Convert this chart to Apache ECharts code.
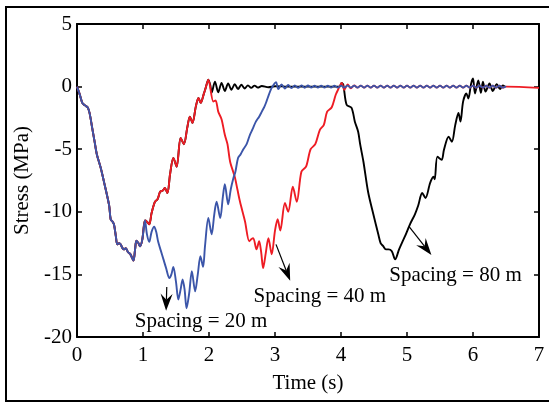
<!DOCTYPE html>
<html><head><meta charset="utf-8">
<script src="https://cdn.jsdelivr.net/npm/echarts/dist/echarts.min.js"></script>
<style>html,body{margin:0;padding:0;background:#fff}#c{width:549px;height:404px}</style>
</head><body><div id="c"></div>
<script>
// ---- axes ----
const xMin = 0, xMax = 7, xStep = 1;
const yMin = -20, yMax = 5, yStep = 5;
const xTitle = 'Time (s)';
const yTitle = 'Stress (MPa)';

// ---- data (time s, stress MPa) ----
// first trough, shared by all three spacings
const sharedDescent = [[0,0],[0.04,-0.6],[0.08,-1.3],[0.12,-1.5],[0.16,-1.65],[0.19,-2.1],[0.23,-3.3],[0.27,-4.5],[0.30,-5.4],[0.36,-6.5],[0.40,-7.4],[0.43,-8.1],[0.46,-8.8],[0.49,-9.6],[0.51,-10.6],[0.54,-10.8],[0.56,-11.0],[0.59,-12.0],[0.61,-12.6],[0.64,-12.5],[0.66,-12.6],[0.69,-12.9],[0.71,-13.0],[0.74,-12.9],[0.77,-13.2],[0.81,-13.4],[0.855,-13.9],[0.88,-13.0],[0.90,-12.3],[0.93,-12.5],[0.955,-12.75],[0.99,-12.2],[1.03,-10.7]];
// rise after first trough, shared by 40 m and 80 m
const sharedRise = [[1.06,-10.8],[1.095,-11.0],[1.13,-10.1],[1.18,-9.2],[1.22,-9.0],[1.26,-8.4],[1.30,-8.3],[1.33,-8.1],[1.37,-8.5],[1.41,-7.0],[1.46,-5.7],[1.51,-6.4],[1.57,-4.1],[1.62,-4.6],[1.67,-3.3],[1.71,-2.4],[1.75,-2.9],[1.80,-1.6],[1.84,-0.9],[1.875,-1.3],[1.92,-0.6],[1.95,-0.1],[1.99,0.55]];
// spacing = 80 m
const tail80 = [[2.02,0.1],[2.04,-0.5],[2.09,0.4],[2.14,-0.45],[2.19,0.3],[2.24,-0.35],[2.29,0.25],[2.34,-0.25],[2.39,0.2],[2.44,-0.2],[2.49,0.15],[2.54,-0.15],[2.59,0.1],[2.64,-0.1],[2.69,0.08],[2.74,-0.08],[2.80,0.05],[2.90,-0.05],[3.00,0.03],[3.20,0],[3.50,0],[3.80,0],[3.98,0],[4.01,0.3],[4.035,0.15],[4.085,-1.45],[4.16,-1.7],[4.21,-2.8],[4.26,-3.6],[4.29,-4.6],[4.34,-6.0],[4.41,-8.4],[4.49,-10.2],[4.565,-11.8],[4.60,-12.5],[4.64,-12.75],[4.68,-13.0],[4.72,-13.0],[4.77,-13.15],[4.82,-13.8],[4.88,-13.0],[4.93,-12.4],[4.97,-11.95],[5.045,-11.0],[5.12,-10.2],[5.17,-9.5],[5.23,-8.5],[5.28,-8.9],[5.35,-7.7],[5.40,-7.2],[5.42,-7.4],[5.46,-5.6],[5.525,-5.85],[5.56,-5.05],[5.63,-4.0],[5.68,-4.4],[5.73,-3.1],[5.78,-2.1],[5.81,-2.8],[5.85,-1.2],[5.90,-0.55],[5.93,-0.95],[5.97,0.2],[6.00,0.65],[6.03,-0.55],[6.08,0.5],[6.12,-0.5],[6.15,0.4],[6.19,-0.4],[6.25,0.25],[6.30,-0.35],[6.36,0.2],[6.41,-0.2],[6.45,0.1],[6.48,0.0]];
// spacing = 40 m
const tail40 = [[2.065,-1.2],[2.10,-1.1],[2.14,-2.0],[2.19,-2.6],[2.24,-3.85],[2.28,-4.6],[2.32,-6.0],[2.39,-7.2],[2.43,-8.2],[2.47,-9.2],[2.545,-10.75],[2.61,-12.35],[2.64,-12.2],[2.67,-12.1],[2.72,-13.0],[2.76,-12.35],[2.79,-13.2],[2.82,-14.5],[2.86,-13.3],[2.90,-12.1],[2.95,-13.4],[3.00,-11.5],[3.04,-10.6],[3.08,-11.5],[3.15,-9.3],[3.20,-10.0],[3.27,-8.0],[3.33,-9.2],[3.40,-6.8],[3.47,-6.4],[3.54,-5.0],[3.61,-4.6],[3.68,-3.45],[3.74,-3.05],[3.79,-2.0],[3.86,-1.65],[3.92,-0.65],[3.96,-0.2],[4.01,0.3],[4.05,-0.25],[4.10,0.18],[4.15,-0.14],[4.20,0.1],[4.25,-0.08],[4.30,0.08],[4.35,-0.08],[4.40,0.08],[4.45,-0.08],[4.50,0.08],[4.55,-0.08],[4.60,0.08],[4.65,-0.08],[4.70,0.08],[4.75,-0.08],[4.80,0.08],[4.85,-0.08],[4.90,0.08],[4.95,-0.08],[5.00,0.08],[5.05,-0.08],[5.10,0.08],[5.15,-0.08],[5.20,0.08],[5.25,-0.08],[5.30,0.08],[5.35,-0.08],[5.40,0.08],[5.45,-0.08],[5.50,0.08],[5.55,-0.08],[5.60,0.08],[5.65,-0.08],[5.70,0.08],[5.75,-0.08],[5.80,0.08],[5.85,-0.08],[5.90,0.08],[5.95,-0.08],[6.00,0.08],[6.05,-0.08],[6.10,0.08],[6.15,-0.08],[6.20,0.08],[6.25,-0.08],[6.30,0.08],[6.35,-0.08],[6.40,0.08],[6.45,-0.08],[6.50,0.0],[7.00,-0.1]];
// spacing = 20 m
const tail20 = [[1.06,-11.8],[1.095,-12.4],[1.13,-11.6],[1.17,-11.2],[1.20,-11.6],[1.23,-12.4],[1.27,-13.1],[1.31,-13.8],[1.35,-14.5],[1.40,-15.3],[1.43,-15.0],[1.46,-14.4],[1.50,-15.6],[1.535,-17.0],[1.57,-16.2],[1.60,-15.4],[1.63,-16.2],[1.66,-17.7],[1.70,-16.5],[1.74,-14.75],[1.79,-16.35],[1.83,-15.0],[1.87,-13.55],[1.91,-14.4],[1.94,-12.7],[1.99,-10.5],[2.04,-11.8],[2.08,-10.2],[2.115,-9.2],[2.17,-10.5],[2.21,-8.8],[2.24,-7.8],[2.29,-9.4],[2.33,-8.2],[2.37,-7.3],[2.40,-6.8],[2.44,-5.7],[2.48,-5.4],[2.52,-5.0],[2.57,-4.6],[2.62,-3.85],[2.66,-3.4],[2.71,-2.8],[2.76,-2.4],[2.80,-2.0],[2.84,-1.6],[2.87,-1.2],[2.91,-0.6],[2.95,-0.1],[3.015,0.35],[3.05,-0.2],[3.10,0.18],[3.15,-0.16],[3.20,0.14],[3.25,-0.12],[3.30,0.1],[3.35,-0.1],[3.40,0.1],[3.45,-0.09],[3.50,0.09],[3.55,-0.08],[3.60,0.08],[3.65,-0.08],[3.70,0.08],[3.75,-0.08],[3.80,0.08],[3.85,-0.08],[3.90,0.08],[3.95,-0.08],[4.00,0.08],[4.05,-0.08],[4.10,0.08],[4.15,-0.08],[4.20,0.08],[4.25,-0.08],[4.30,0.08],[4.35,-0.08],[4.40,0.08],[4.45,-0.08],[4.50,0.08],[4.55,-0.08],[4.60,0.08],[4.65,-0.08],[4.70,0.08],[4.75,-0.08],[4.80,0.08],[4.85,-0.08],[4.90,0.08],[4.95,-0.08],[5.00,0.08],[5.05,-0.08],[5.10,0.08],[5.15,-0.08],[5.20,0.08],[5.25,-0.08],[5.30,0.08],[5.35,-0.08],[5.40,0.08],[5.45,-0.08],[5.50,0.08],[5.55,-0.08],[5.60,0.08],[5.65,-0.08],[5.70,0.08],[5.75,-0.08],[5.80,0.08],[5.85,-0.08],[5.90,0.08],[5.95,-0.08],[6.00,0.08],[6.05,-0.08],[6.10,0.08],[6.15,-0.08],[6.20,0.08],[6.25,-0.08],[6.30,0.08],[6.35,-0.08],[6.40,0.08],[6.45,-0.08],[6.50,0.03]];

// annotations: label centre, arrow start, arrow end (data coords)
const annotations = [
  {text:'Spacing = 20 m', at:[1.88,-18.8], from:[1.36,-16.0], to:[1.35,-17.9]},
  {text:'Spacing = 40 m', at:[3.68,-16.73], from:[3.015,-12.6], to:[3.23,-15.5]},
  {text:'Spacing = 80 m', at:[5.735,-15.05], from:[5.035,-11.2], to:[5.37,-13.45]}
];

const FONT = "'Liberation Serif','Times New Roman',serif";
const line80 = sharedDescent.concat(sharedRise, tail80);
const line40 = sharedDescent.concat(sharedRise, tail40);
const line20 = sharedDescent.concat(tail20);

const chart = echarts.init(document.getElementById('c'), null, {renderer:'canvas'});
const axisCommon = {
  axisLine:{show:true, onZero:false, lineStyle:{color:'#000', width:2}},
  axisTick:{show:true, inside:true, length:5, lineStyle:{color:'#000', width:1.5}},
  splitLine:{show:false}
};
chart.setOption({
  animation:false,
  backgroundColor:'#fff',
  grid:{left:77, right:10, top:24, bottom:67, containLabel:false},
  xAxis:[
    Object.assign({type:'value', min:xMin, max:xMax, interval:xStep, position:'bottom',
      name:xTitle, nameLocation:'middle', nameGap:36,
      nameTextStyle:{fontFamily:FONT, fontSize:21, color:'#000'},
      axisLabel:{fontFamily:FONT, fontSize:21, color:'#000', margin:8}}, axisCommon),
    Object.assign({type:'value', min:xMin, max:xMax, interval:xStep, position:'top',
      axisLabel:{show:false}}, axisCommon)
  ],
  yAxis:[
    Object.assign({type:'value', min:yMin, max:yMax, interval:yStep, position:'left',
      name:yTitle, nameLocation:'middle', nameGap:40, nameRotate:90,
      nameTextStyle:{fontFamily:FONT, fontSize:21, color:'#000'},
      axisLabel:{fontFamily:FONT, fontSize:21, color:'#000', margin:5}}, axisCommon),
    Object.assign({type:'value', min:yMin, max:yMax, interval:yStep, position:'right',
      axisLabel:{show:false}}, axisCommon)
  ],
  series:[
    {name:'80 m', type:'line', data:line80, showSymbol:false, symbol:'none', z:2, smooth:0.3,
      lineStyle:{color:'#000000', width:1.9}},
    {name:'40 m', type:'line', data:line40, showSymbol:false, symbol:'none', z:3, smooth:0.3,
      lineStyle:{color:'#ee1c24', width:1.9}},
    {name:'20 m', type:'line', data:line20, showSymbol:false, symbol:'none', z:4, smooth:0.3,
      lineStyle:{color:'#3b55a9', width:1.9}}
  ]
});

// annotations placed via the axes
const g = [{type:'rect', shape:{x:6, y:7, width:600, height:394}, style:{fill:null, stroke:'#000', lineWidth:2}, z:100}];
annotations.forEach(a => {
  const c = chart.convertToPixel({gridIndex:0}, a.at);
  const p0 = chart.convertToPixel({gridIndex:0}, a.from);
  const p1 = chart.convertToPixel({gridIndex:0}, a.to);
  g.push({type:'text', x:c[0], y:c[1], z:100, style:{text:a.text, font:"21px "+FONT, fill:'#000', align:'center', verticalAlign:'middle'}});
  const dx = p1[0]-p0[0], dy = p1[1]-p0[1], L = Math.hypot(dx,dy);
  const ux = dx/L, uy = dy/L, nx = -uy, ny = ux;
  const head = 17, half = 6, notch = 11;
  const base = [p1[0]-ux*head, p1[1]-uy*head];
  const nb = [p1[0]-ux*notch, p1[1]-uy*notch];
  g.push({type:'line', z:100, shape:{x1:p0[0], y1:p0[1], x2:nb[0], y2:nb[1]}, style:{stroke:'#000', lineWidth:1.2}});
  g.push({type:'polygon', z:100, shape:{points:[[p1[0],p1[1]],[base[0]+nx*half, base[1]+ny*half],[nb[0],nb[1]],[base[0]-nx*half, base[1]-ny*half]]}, style:{fill:'#000'}});
});
chart.setOption({graphic:g});
</script>
</body></html>
